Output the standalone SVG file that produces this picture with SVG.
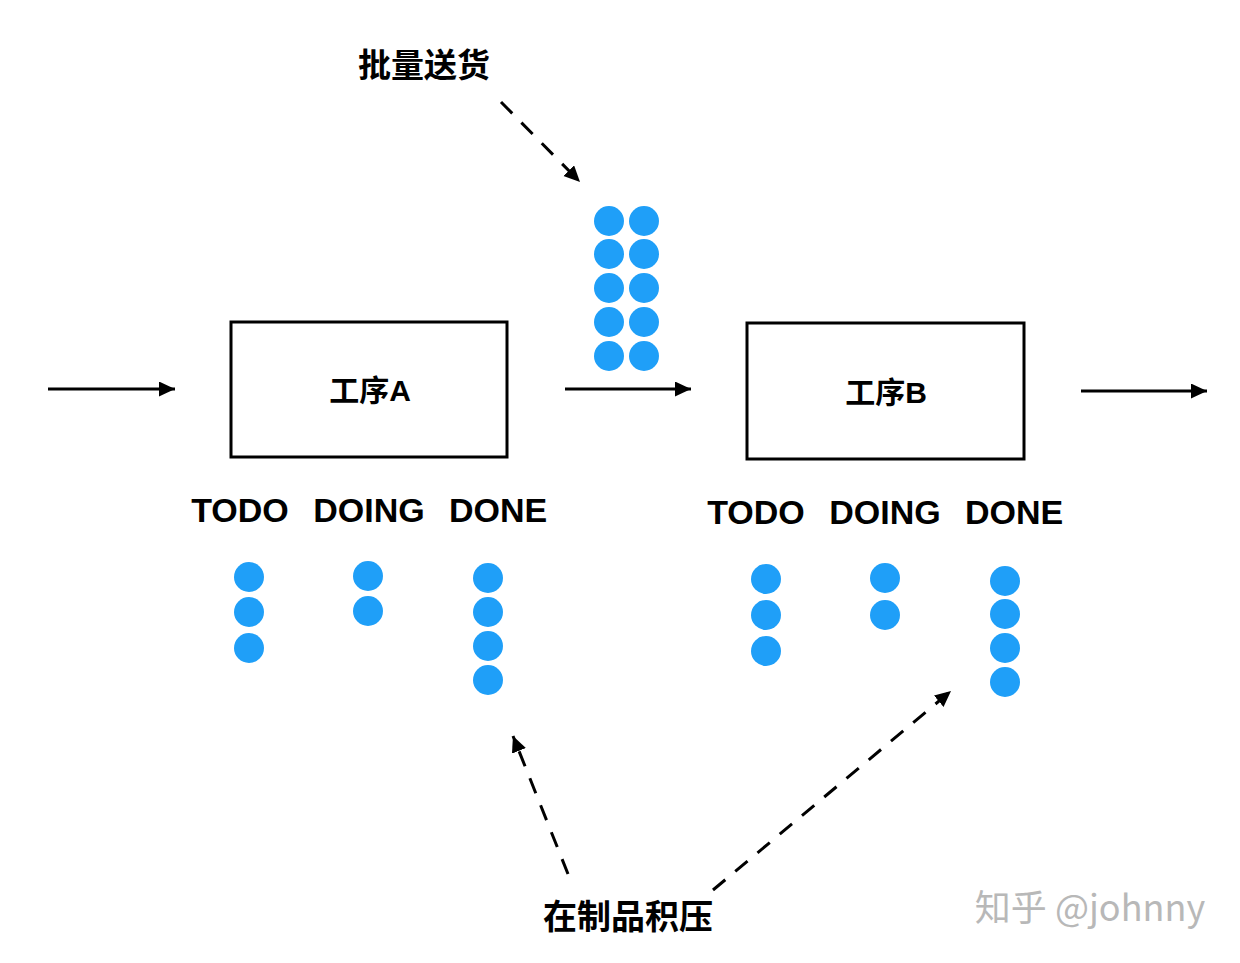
<svg xmlns="http://www.w3.org/2000/svg" width="1240" height="963" viewBox="0 0 1240 963">
  <style>
    .box { fill: #fff; stroke: #000; stroke-width: 3; }
    .lbl { font-family: "Liberation Sans", "Noto Sans CJK SC", sans-serif; font-weight: bold; fill: #000; }
    .cjk { font-family: "Noto Sans CJK SC", sans-serif; font-weight: bold; fill: #000; }
    .col { font-family: "Liberation Sans", Arial, sans-serif; font-weight: bold; font-size: 34px; fill: #000; }
    .dot { fill: #1f9ff8; }
    .solid { stroke: #000; stroke-width: 3; fill: none; }
    .dash { stroke: #000; stroke-width: 3; fill: none; stroke-dasharray: 16 13; }
    .wm { font-family: "Noto Sans CJK SC", sans-serif; font-size: 36px; fill: #b8b8b8; }
  </style>
  <defs>
    <marker id="ah" markerUnits="userSpaceOnUse" markerWidth="17" markerHeight="16" refX="16" refY="7.5" orient="auto">
      <path d="M0,0 L16,7.5 L0,15 z" fill="#000"/>
    </marker>
  </defs>
  <rect width="1240" height="963" fill="#fff"/>

  <g id="connectors">
    <line class="solid" x1="48" y1="389" x2="175" y2="389" marker-end="url(#ah)"/>
    <line class="solid" x1="565" y1="389" x2="691" y2="389" marker-end="url(#ah)"/>
    <line class="solid" x1="1081" y1="391" x2="1207" y2="391" marker-end="url(#ah)"/>
    <line class="dash" x1="501" y1="102" x2="580" y2="182" marker-end="url(#ah)"/>
    <line class="dash" x1="568" y1="874" x2="513" y2="736" marker-end="url(#ah)"/>
    <line class="dash" x1="713" y1="890" x2="951" y2="691" marker-end="url(#ah)"/>
  </g>

  <g id="label-batch">
    <text class="cjk" x="424" y="77" font-size="33" text-anchor="middle">批量送货</text>
  </g>

  <g id="batch-dots">
    <circle class="dot" cx="609" cy="221" r="15"/>
    <circle class="dot" cx="644" cy="221" r="15"/>
    <circle class="dot" cx="609" cy="254" r="15"/>
    <circle class="dot" cx="644" cy="254" r="15"/>
    <circle class="dot" cx="609" cy="288" r="15"/>
    <circle class="dot" cx="644" cy="288" r="15"/>
    <circle class="dot" cx="609" cy="322" r="15"/>
    <circle class="dot" cx="644" cy="322" r="15"/>
    <circle class="dot" cx="609" cy="356" r="15"/>
    <circle class="dot" cx="644" cy="356" r="15"/>
  </g>

  <g id="process-a">
    <rect class="box" x="231" y="322" width="276" height="135"/>
    <text class="lbl" x="370" y="401" font-size="30" text-anchor="middle">工序A</text>
    <text class="col" x="240" y="522" text-anchor="middle">TODO</text>
    <text class="col" x="369" y="522" text-anchor="middle">DOING</text>
    <text class="col" x="498" y="522" text-anchor="middle">DONE</text>
    <circle class="dot" cx="249" cy="577" r="15"/>
    <circle class="dot" cx="249" cy="612" r="15"/>
    <circle class="dot" cx="249" cy="648" r="15"/>
    <circle class="dot" cx="368" cy="576" r="15"/>
    <circle class="dot" cx="368" cy="611" r="15"/>
    <circle class="dot" cx="488" cy="578" r="15"/>
    <circle class="dot" cx="488" cy="612" r="15"/>
    <circle class="dot" cx="488" cy="646" r="15"/>
    <circle class="dot" cx="488" cy="680" r="15"/>
  </g>

  <g id="process-b">
    <rect class="box" x="747" y="323" width="277" height="136"/>
    <text class="lbl" x="886" y="403" font-size="30" text-anchor="middle">工序B</text>
    <text class="col" x="756" y="524" text-anchor="middle">TODO</text>
    <text class="col" x="885" y="524" text-anchor="middle">DOING</text>
    <text class="col" x="1014" y="524" text-anchor="middle">DONE</text>
    <circle class="dot" cx="766" cy="579" r="15"/>
    <circle class="dot" cx="766" cy="615" r="15"/>
    <circle class="dot" cx="766" cy="651" r="15"/>
    <circle class="dot" cx="885" cy="578" r="15"/>
    <circle class="dot" cx="885" cy="615" r="15"/>
    <circle class="dot" cx="1005" cy="581" r="15"/>
    <circle class="dot" cx="1005" cy="614" r="15"/>
    <circle class="dot" cx="1005" cy="648" r="15"/>
    <circle class="dot" cx="1005" cy="682" r="15"/>
  </g>

  <g id="label-wip">
    <text class="cjk" x="628" y="929" font-size="34" text-anchor="middle">在制品积压</text>
  </g>

  <g id="watermark">
    <text class="wm" x="1090" y="921" text-anchor="middle">知乎 @johnny</text>
  </g>
</svg>
